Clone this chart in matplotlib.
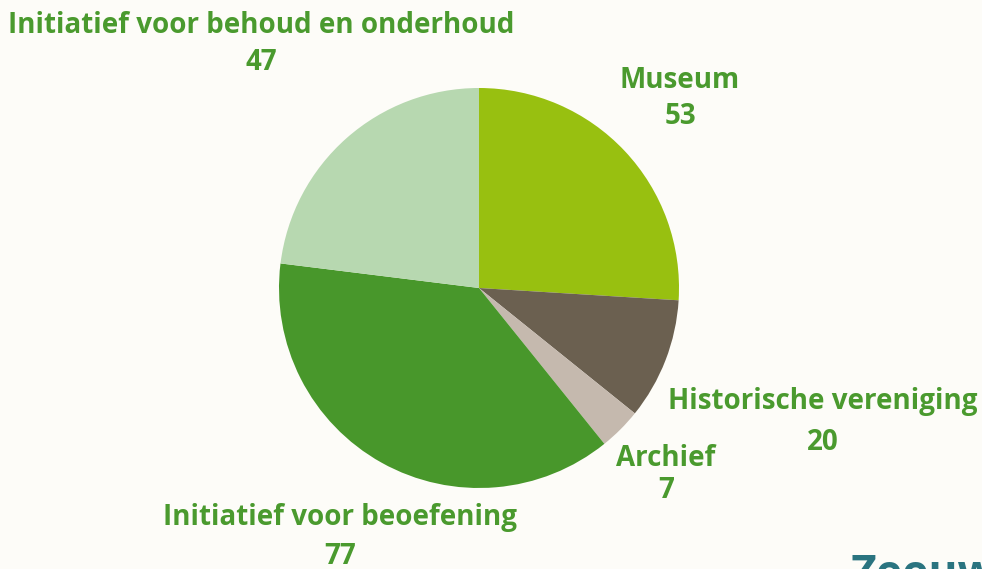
import matplotlib
matplotlib.use("Agg")
import matplotlib.pyplot as plt

categories = ["Museum", "Historische vereniging", "Archief",
              "Initiatief voor beoefening", "Initiatief voor behoud en onderhoud"]
values = [53, 20, 7, 77, 47]
colors = ["#98C010", "#6B6050", "#C5B9AE", "#48972B", "#B7D8B0"]

# label anchor positions in pixels (x, y from top): name line, value line
name_pos = [(680, 80), (823, 402), (666, 458), (340, 517), (261, 25)]
value_pos = [(681, 116), (823, 442), (666, 490), (340, 557), (261, 62)]

W, H = 982, 569
bg = "#FDFCF8"
txt = "#4A9A2E"

fig = plt.figure(figsize=(W / 100, H / 100), dpi=100, facecolor=bg)
ax = fig.add_axes([0, 0, 1, 1])
ax.set_facecolor(bg)

ax.pie(values, colors=colors, startangle=90, counterclock=False,
       center=(479, H - 288), radius=200, wedgeprops=dict(linewidth=0))

font = ["Open Sans", "DejaVu Sans"]
for name, val, (nx, ny), (vx, vy) in zip(categories, values, name_pos, value_pos):
    ax.text(nx, H - ny, name, ha="center", va="center", fontsize=20,
            fontweight="bold", color=txt, family=font)
    ax.text(vx, H - vy, str(val), ha="center", va="center", fontsize=20,
            fontweight="bold", color=txt, family=font)

ax.text(851, H - 587, "Zeeuws", ha="left", va="baseline", fontsize=32,
        fontweight="bold", color="#2A7480", family=font)

ax.set_xlim(0, W)
ax.set_ylim(0, H)
ax.set_aspect("equal")
ax.axis("off")

fig.savefig("out.png", dpi=100, facecolor=bg)
